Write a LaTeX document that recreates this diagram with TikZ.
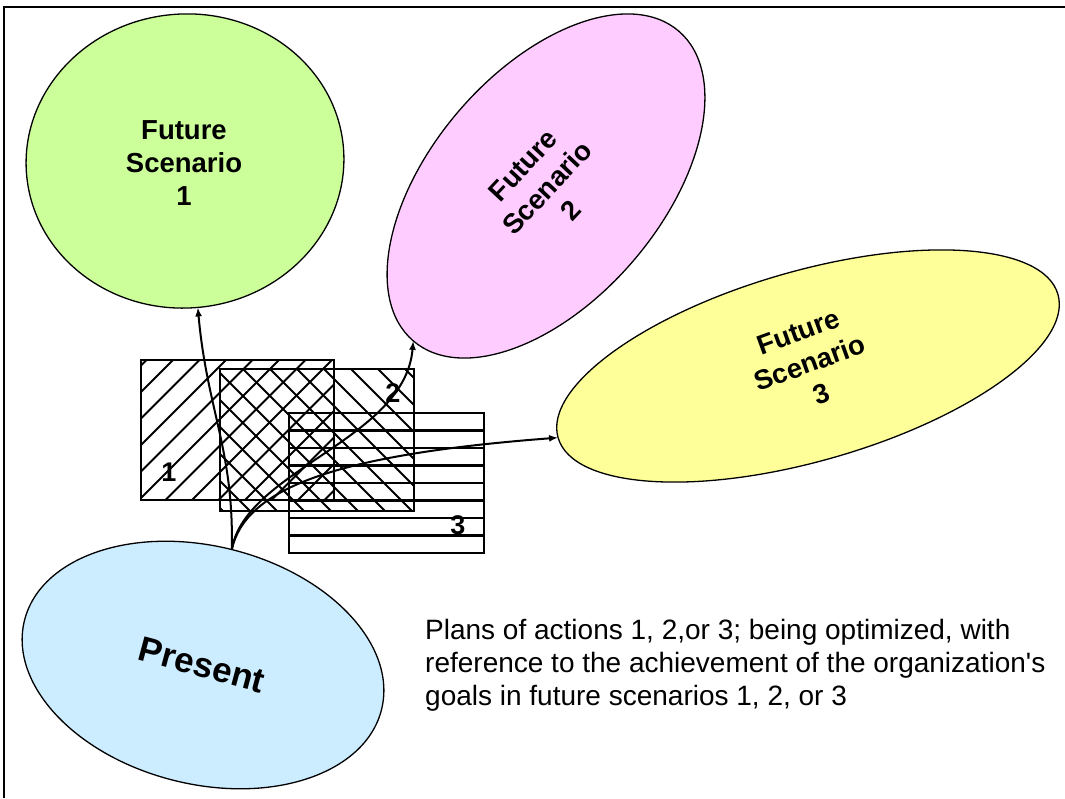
\documentclass[tikz,border=0pt]{standalone}
\usepackage{fontspec}
\setmainfont{Liberation Sans}
\newfontfamily\arialx{Liberation Sans}
\usetikzlibrary{shapes.geometric,arrows.meta}
\definecolor{cgreen}{HTML}{CCFF99}
\definecolor{cpink}{HTML}{FFCCFF}
\definecolor{cyellow}{HTML}{FFFF99}
\definecolor{cblue}{HTML}{CCECFF}
\begin{document}
\begin{tikzpicture}[x=1pt,y=-1pt,
  blob/.style={ellipse, draw=black, line width=1.3pt, inner sep=0pt, outer sep=0pt},
  lbl/.style={align=center, font=\fontsize{27.5}{33}\selectfont\bfseries, inner sep=0pt},
  plan/.style={rectangle, draw=black, line width=2.8pt, inner sep=0pt, outer sep=0pt},
  hatch/.style={line width=1.8pt},
  conn/.style={line width=2pt, -{Latex[length=9pt,width=7pt]}},
  num/.style={font=\fontsize{27}{30}\selectfont\bfseries, inner sep=0pt}]
\useasboundingbox (0,0) rectangle (1065,798);
\draw[line width=2pt] (4,798) -- (4,7) -- (1065,7);

% ellipses
\node[blob, fill=cgreen, minimum width=318pt, minimum height=294pt, rotate=5] (green) at (185,161) {};
\node[blob, fill=cpink, minimum width=408pt, minimum height=230pt, rotate=49.4] (pink) at (546,186) {};
\node[blob, fill=cyellow, minimum width=520pt, minimum height=190pt, rotate=16] (yellow) at (808,366) {};
\node[blob, fill=cblue, minimum width=368pt, minimum height=238pt, rotate=-14] (present) at (203,665) {};

% labels
\node[lbl] (t1) at (184,163) {Future\\Scenario\\1};
\node[lbl, rotate=47] (t2) at (547,188) {Future\\Scenario\\2};
\node[lbl, rotate=20] (t3) at (810,363) {Future\\Scenario\\3};
\node[font=\fontsize{35}{40}\selectfont\bfseries, rotate=-15, inner sep=0pt] (tp) at (202,665) {Present};

% plan boxes
\node[plan, minimum width=193pt, minimum height=140pt] (p1) at (237.5,430) {};
\node[plan, minimum width=194pt, minimum height=142pt] (p2) at (317,440) {};
\node[plan, minimum width=195pt, minimum height=140pt] (p3) at (386.5,483) {};

\begin{scope}
  \clip (p1.south west) rectangle (p1.north east);
  \foreach \c in {0,...,13} {
    \draw[hatch] ({506.5+26.5*\c-350},350) -- ({506.5+26.5*\c-510},510);
  }
\end{scope}
\begin{scope}
  \clip (p2.south west) rectangle (p2.north east);
  \foreach \c in {0,...,13} {
    \draw[hatch] ({36-27*\c+350},350) -- ({36-27*\c+520},520);
  }
\end{scope}
\begin{scope}
  \clip (p3.south west) rectangle (p3.north east);
  \foreach \k in {1,...,7} {
    \draw[line width=2.4pt] (280,{413+17.5*\k}) -- (490,{413+17.5*\k});
  }
\end{scope}

\node[num] (n1) at (169,472) {1};
\node[num] (n2) at (393,393) {2};
\node[num] (n3) at (458,525) {3};

% connectors
\draw[conn] (present.north) .. controls (234,450) and (207,410) .. (green.south);
\draw[conn] (present.north) .. controls (245,470) and (405,440) .. (pink.west);
\draw[conn] (present.north) .. controls (245,490) and (330,455) .. (yellow.west);

% description
\node[anchor=north west, align=left, inner sep=0pt, font=\arialx\fontsize{28}{33}\selectfont] (desc) at (425,619)
  {Plans of actions 1, 2,or 3; being optimized, with\\reference to the achievement of the organization's\\goals in future scenarios 1, 2, or 3};
\end{tikzpicture}
\end{document}
